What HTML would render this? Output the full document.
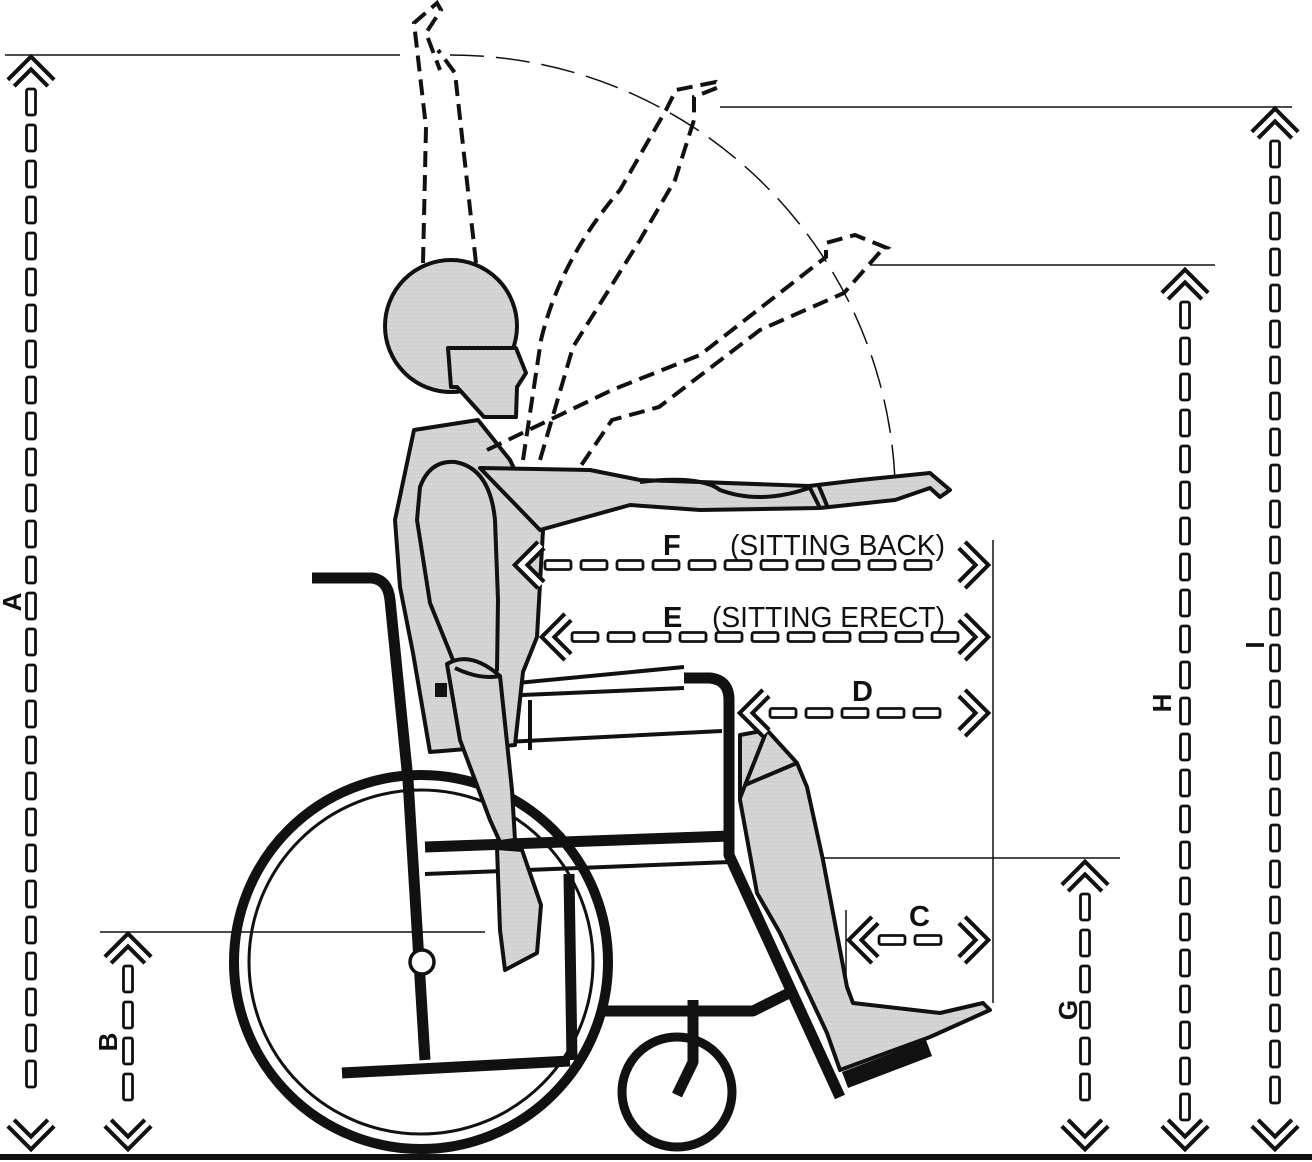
<!DOCTYPE html>
<html><head><meta charset="utf-8"><style>
html,body{margin:0;padding:0;background:#fff}
svg{display:block}
text{font-family:"Liberation Sans",sans-serif;fill:#111}
</style></head><body>
<svg id="fig" width="1312" height="1162" viewBox="0 0 1312 1162" xmlns="http://www.w3.org/2000/svg">
<defs>
<pattern id="stip" width="4" height="4" patternUnits="userSpaceOnUse"><rect width="4" height="4" fill="#d6d6d6"/><rect x="1" y="1" width="1" height="1" fill="#bdbdbd"/><rect x="3" y="2" width="1" height="1" fill="#c4c4c4"/></pattern>
</defs>
<g id="refs" stroke="#111" stroke-width="1.5" fill="none">
<line x1="5" y1="55" x2="400" y2="55"/>
<line x1="720" y1="107" x2="1292" y2="107"/>
<line x1="870" y1="265" x2="1215" y2="265"/>
<line x1="770" y1="858" x2="1120" y2="858"/>
<line x1="100" y1="932" x2="485" y2="932"/>
<line x1="993" y1="540" x2="993" y2="1003"/>
<line x1="846" y1="910" x2="846" y2="1000"/>
<path d="M450 55 A445 445 0 0 1 895 480" stroke-dasharray="34 12"/>
</g>
<line x1="0" y1="1157" x2="1312" y2="1157" stroke="#111" stroke-width="6"/>

<g id="wheel">
<circle cx="421" cy="962" r="187" fill="none" stroke="#111" stroke-width="10"/>
<circle cx="421" cy="962" r="172" fill="none" stroke="#111" stroke-width="3"/>
<g stroke="#111" stroke-width="11" fill="none" stroke-linejoin="round" stroke-linecap="butt">
<path d="M312 578 H372 Q388 580 390 600 L408 780 L425 1060"/>
<line x1="342" y1="1073" x2="570" y2="1061"/>
<line x1="569" y1="874" x2="572" y2="1060"/>
<line x1="425" y1="847" x2="730" y2="836"/>
<path d="M684 678 H710 Q729 680 729 700 V855 L840 1097"/>
<path d="M605 1011 H753 L793 991"/>
<path d="M693 1000 V1062 L677 1095"/>
<line x1="845" y1="1080" x2="929" y2="1048" stroke-width="17"/>
</g>
<g stroke="#111" stroke-width="4" fill="none">
<line x1="425" y1="874" x2="730" y2="862"/>
<line x1="505" y1="742" x2="722" y2="731"/>
<line x1="496" y1="685" x2="684" y2="667"/>
<line x1="500" y1="696" x2="684" y2="688"/>
<line x1="530" y1="750" x2="530" y2="700"/>
</g>
<line x1="752" y1="880" x2="835" y2="1060" stroke="#fff" stroke-width="3"/>
<circle cx="677" cy="1092" r="55" fill="none" stroke="#111" stroke-width="9"/>
<circle cx="422" cy="962" r="12" fill="#fff" stroke="#111" stroke-width="3.5"/>
</g>

<g id="person" fill="url(#stip)" stroke="#111" stroke-width="4" stroke-linejoin="round">
<path d="M414 430 L478 420 L510 460 L543 530 L537 637 L523 672 L515 745 L430 752 L413 653 L400 587 L395 520 Z"/>
<path d="M480 468 L590 470 L640 480 L700 482 L809 486 L860 480 L930 473 L950 490 L940 497 L930 488 L895 500 L820 508 L700 510 L630 505 L540 530 Z"/>
<path d="M640 482 Q700 475 720 490 Q760 505 809 488 M809 486 L820 508 M818 484 L828 508" fill="none"/>
<path d="M420 487 Q430 460 455 462 Q490 468 495 520 L498 600 L497 670 Q480 690 455 665 L430 603 L417 520 Z"/>
<circle cx="451" cy="326" r="66"/>
<path d="M448 348 L516 348 L526 373 L517 387 L516 417 L484 417 L457 387 L451 387 Z"/>
<path d="M447 664 Q470 650 500 676 L512 790 L515 840 L500 842 L490 820 L460 740 Z"/>
<path d="M455 668 Q480 680 500 676" fill="none"/>
<path d="M497 848 L522 850 L541 905 L537 953 L505 970 L500 930 Z"/>
<path d="M740 735 L767 730 L797 763 L807 787 L823 860 L847 987 L853 1003 L940 1013 L983 1003 L990 1010 L930 1037 L840 1070 L827 1033 L780 933 L757 893 L740 800 Z"/>
<path d="M767 730 L740 798 M797 763 L745 785" fill="none"/>
</g>
<rect x="435" y="683" width="12" height="14" fill="#111"/>

<g id="dashedArms" stroke="#111" stroke-width="4" fill="none" stroke-dasharray="16 8">
<path d="M423 263 L426 127 L414 23 L437 3 L441 10 L426 33 L440 70 M476 263 L455 73 L438 50"/>
<path d="M523 460 L541 340 Q560 260 620 190 L666 110 L676 90 L716 82 L719 87 L694 97 L694 120 L675 180 L640 240 L573 347 L540 460"/>
<path d="M487 450 L612 390 L700 355 L826 257 L826 243 L855 235 L887 248 L880 252 L844 293 L760 330 L659 407 L612 420 L580 467"/>
</g>

<g id="dims"></g>
<g id="labels" font-size="29" font-weight="500">
<text x="663" y="555" font-weight="bold">F</text>
<text x="730" y="555" textLength="215" lengthAdjust="spacingAndGlyphs">(SITTING BACK)</text>
<text x="663" y="627" font-weight="bold">E</text>
<text x="712" y="627" textLength="233" lengthAdjust="spacingAndGlyphs">(SITTING ERECT)</text>
<text x="852" y="701" font-weight="bold">D</text>
<text x="909" y="926" font-weight="bold">C</text>
<text transform="translate(21,602) rotate(-90)" text-anchor="middle" font-size="26" font-weight="bold">A</text>
<text transform="translate(117,1042) rotate(-90)" text-anchor="middle" font-size="26" font-weight="bold">B</text>
<text transform="translate(1077,1010) rotate(-90)" text-anchor="middle" font-size="26" font-weight="bold">G</text>
<text transform="translate(1171,703) rotate(-90)" text-anchor="middle" font-size="26" font-weight="bold">H</text>
<text transform="translate(1264,645) rotate(-90)" text-anchor="middle" font-size="26" font-weight="bold">I</text>
</g>
</svg>
<script>
const vNames=['A','B','G','H','I'];
const vX=[31,128,1085,1185,1275];
const vTop=[55,932,860,268,107];
const hNames=['F','E','D','C'];
const hY=[565,637,713,940];
const hLeft=[513,540,738,847];
const hRight=[990,990,990,990];
const NS='http://www.w3.org/2000/svg';
const dims=document.getElementById('dims');
function mk(tag,at){const e=document.createElementNS(NS,tag);for(const k in at)e.setAttribute(k,at[k]);dims.appendChild(e);return e;}
function chev(pts){
  mk('polyline',{points:pts,fill:'none',stroke:'#111','stroke-width':13,'stroke-linejoin':'miter'});
  mk('polyline',{points:pts,fill:'none',stroke:'#fff','stroke-width':5,'stroke-linejoin':'miter'});
}
const floorY=1151;
vNames.forEach((n,i)=>{
  const x=vX[i],t=vTop[i];
  chev(`${x-20},${t+28} ${x},${t+8} ${x+20},${t+28}`);
  chev(`${x-20},${floorY-28} ${x},${floorY-8} ${x+20},${floorY-28}`);
  for(let y=t+34;y+26<floorY-30;y+=36){
    const r=mk('rect',{x:x-4.5,y:y,width:9,height:26,rx:2,fill:'#fff',stroke:'#111','stroke-width':2.8});
    
    
  }
});
hNames.forEach((n,i)=>{
  const y=hY[i],l=hLeft[i],r=hRight[i];
  chev(`${l+28},${y-20} ${l+8},${y} ${l+28},${y+20}`);
  chev(`${r-28},${y-20} ${r-8},${y} ${r-28},${y+20}`);
  for(let x=l+32;x+26<r-30;x+=36){
    const e=mk('rect',{x:x,y:y-4.5,width:26,height:9,rx:2,fill:'#fff',stroke:'#111','stroke-width':2.8});
    
    
  }
});
</script>
</body></html>
